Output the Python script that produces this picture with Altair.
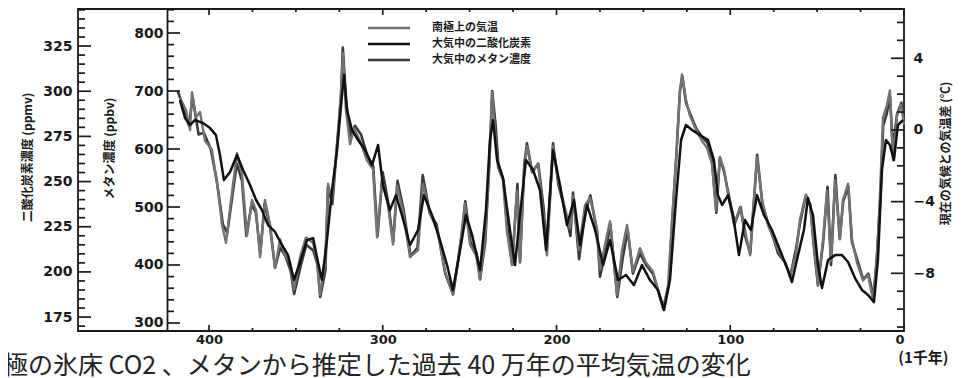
import altair as alt
import pandas as pd

# ---------------- data ----------------
# age in thousand years before present
temp_age = [416.7, 413.2, 410.9, 409.8, 407.5, 405.2, 402.3, 398.3, 394.8, 392.5,
            390.2, 387.3, 383.9, 381.0, 378.1, 375.3, 372.9, 370.6, 367.8, 364.9,
            362.0, 359.1, 356.3, 353.4, 351.1, 347.6, 344.2, 340.1, 337.8, 336.1,
            333.2, 331.5, 329.2, 326.3, 324.0, 322.9, 321.2, 318.8, 316.5, 313.1,
            309.1, 305.6, 303.3, 300.4, 297.0, 294.1, 291.8, 288.3, 284.3, 279.7,
            276.8, 272.8, 268.8, 264.2, 259.6, 256.7, 254.4, 252.7, 249.8, 246.3,
            244.0, 241.2, 238.8, 237.1, 235.4, 233.7, 230.8, 228.5, 225.6, 222.7,
            221.0, 218.7, 217.0, 214.1, 210.6, 207.8, 205.5, 202.0, 199.1, 196.3,
            192.2, 190.5, 187.1, 183.6, 180.7, 176.7, 175.0, 172.1, 169.2, 165.2,
            162.3, 159.4, 156.0, 151.9, 148.5, 144.5, 141.6, 138.7, 135.8, 133.5,
            131.2, 128.9, 127.8, 125.5, 123.2, 119.7, 116.3, 113.4, 110.5, 108.2,
            105.9, 103.6, 100.7, 97.8, 94.4, 91.5, 88.6, 84.6, 81.7, 78.3,
            75.4, 72.5, 68.5, 65.6, 62.2, 59.9, 56.4, 54.1, 51.8, 49.5,
            46.6, 44.3, 42.0, 39.7, 36.8, 35.1, 32.2, 29.9, 27.1, 23.6,
            20.7, 17.8, 15.5, 13.8, 12.1, 9.8, 8.1, 6.3, 4.0, 1.7,
            0.0]
temp_val = [1.8, 1.1, 0.0, 2.1, 0.7, 1.0, -0.6, -1.1, -3.4, -5.3,
            -6.3, -3.9, -1.3, -2.5, -5.9, -3.9, -4.5, -7.1, -3.9, -5.3,
            -7.7, -6.1, -7.0, -7.4, -8.9, -7.1, -6.0, -6.3, -7.4, -9.2,
            -7.5, -3.0, -3.9, -0.8, 2.2, 4.3, 1.1, -0.8, 0.1, -0.6,
            -1.7, -2.2, -6.0, -2.8, -4.2, -6.4, -3.1, -4.6, -7.1, -6.7,
            -3.0, -4.7, -5.5, -7.9, -9.2, -7.3, -5.6, -4.1, -6.4, -7.0,
            -8.3, -6.1, -2.2, 2.1, 0.0, -2.1, -2.8, -5.7, -7.5, -3.4,
            -7.4, -2.2, -0.9, -2.3, -1.9, -4.5, -7.0, -0.9, -2.8, -3.9,
            -5.5, -3.7, -6.7, -4.2, -3.8, -5.5, -7.8, -6.4, -5.1, -9.2,
            -6.7, -5.3, -7.9, -6.6, -7.4, -7.9, -8.9, -10.0, -8.7, -5.0,
            -1.7, 2.2, 3.1, 1.7, 0.8, 0.0, -0.6, -1.0, -1.9, -4.5,
            -1.5, -2.2, -3.9, -5.3, -4.3, -5.6, -7.0, -1.5, -3.9, -5.3,
            -6.0, -6.7, -7.4, -8.1, -7.0, -5.0, -3.6, -4.2, -6.4, -8.7,
            -6.1, -3.4, -7.3, -2.8, -6.1, -3.9, -3.0, -6.1, -7.4, -8.4,
            -8.1, -9.5, -7.0, -3.6, 0.7, 1.4, 2.2, -1.7, 0.8, 1.4,
            0.3]

co2_age = [416.7, 413.8, 410.9, 408.1, 403.5, 399.4, 396.0, 393.7, 391.4, 387.9,
           383.9, 380.4, 376.4, 372.9, 369.5, 366.0, 362.0, 358.0, 354.5, 351.1,
           347.6, 343.6, 340.1, 337.3, 335.0, 332.1, 329.2, 326.3, 324.0, 322.3,
           320.6, 317.7, 314.2, 310.2, 306.2, 302.7, 299.9, 295.9, 292.4, 289.0,
           284.3, 279.7, 276.3, 271.7, 267.1, 263.0, 259.6, 255.5, 252.1, 248.6,
           244.0, 240.6, 238.3, 236.5, 234.2, 230.8, 226.8, 223.9, 221.0, 217.6,
           213.5, 209.5, 206.0, 202.0, 198.0, 194.0, 189.9, 186.5, 182.4, 177.8,
           173.2, 169.2, 164.6, 160.0, 155.4, 150.8, 146.2, 141.6, 138.1, 134.7,
           131.2, 128.3, 125.5, 122.0, 117.4, 112.8, 109.4, 107.1, 104.7, 101.3,
           98.4, 95.0, 91.5, 88.1, 84.6, 80.6, 76.0, 71.4, 66.8, 64.5,
           61.0, 57.6, 55.3, 52.4, 49.5, 47.2, 43.7, 39.7, 35.7, 32.2,
           28.2, 24.2, 20.7, 17.3, 15.0, 12.7, 10.4, 8.1, 5.8, 3.5,
           0.6]
co2_val = [295.1, 285.2, 281.3, 284.0, 282.4, 279.6, 275.7, 264.7, 250.8, 255.3,
           264.7, 256.4, 248.1, 239.8, 234.2, 225.9, 222.1, 214.9, 209.3, 195.5,
           205.5, 217.6, 218.7, 205.5, 195.5, 217.6, 245.3, 267.4, 292.3, 309.0,
           289.6, 278.5, 273.0, 267.4, 259.1, 270.2, 248.1, 234.2, 242.5, 231.5,
           214.9, 223.2, 242.5, 231.5, 217.6, 203.8, 190.0, 212.1, 231.5, 220.5,
           201.0, 234.2, 273.0, 284.0, 261.9, 252.0, 223.2, 203.8, 231.5, 261.9,
           256.4, 245.3, 212.1, 267.4, 248.1, 225.9, 239.8, 214.9, 237.0, 223.2,
           203.8, 217.6, 195.5, 198.3, 192.7, 203.8, 195.5, 190.0, 178.9, 195.5,
           239.8, 273.0, 281.3, 278.5, 275.7, 273.0, 261.9, 242.5, 237.0, 242.5,
           231.5, 209.3, 228.7, 223.2, 242.5, 231.5, 223.2, 212.1, 201.0, 194.4,
           209.3, 223.2, 240.9, 231.5, 203.8, 191.1, 206.6, 209.3, 209.3, 205.5,
           196.6, 190.0, 187.2, 183.3, 206.6, 256.4, 273.0, 270.2, 261.9, 281.3,
           284.0]

ch4_age = [418, 414, 411.5, 409.5, 406, 403, 399, 395.5, 392, 389.5,
           386.5, 384, 381, 378.5, 375.5, 373, 370.5, 368, 365, 362,
           359, 356, 353, 351, 347.5, 344, 340, 337.5, 336, 333,
           331.5, 329, 326.5, 324, 323, 321, 318.5, 316, 312.5, 309,
           305.5, 303, 300, 297, 294, 291.5, 288, 284, 280, 277,
           273, 269, 264, 259.5, 256.5, 254, 252.5, 249.5, 246, 244,
           241, 238.5, 237, 235, 233.5, 230.5, 228.5, 225.5, 222.5, 221,
           218.5, 217, 214, 210.5, 207.5, 205.5, 202, 199, 196, 192,
           190.5, 187, 183.5, 180.5, 176.5, 175, 172, 169, 165, 162,
           159, 156, 152, 148.5, 144.5, 141.5, 138.5, 135.5, 133.5, 131,
           129, 127.5, 125.5, 123, 119.5, 116, 113, 110.5, 108, 106,
           103.5, 100.5, 97.5, 94, 91.5, 88.5, 84.5, 81.5, 78, 75,
           72.5, 68.5, 65.5, 62, 60, 56.5, 54, 52, 49.5, 46.5,
           44, 42, 39.5, 37, 35, 32, 30, 27, 23.5, 20.5,
           17.5, 15.5, 13.5, 12, 10, 8, 6.5, 4, 1.5, 0]
ch4_val = [700, 665, 640, 690, 625, 628, 600, 545, 470, 455,
           520, 575, 545, 450, 505, 490, 420, 505, 470, 395,
           430, 415, 390, 350, 395, 435, 425, 400, 345, 390,
           535, 505, 600, 690, 775, 680, 620, 640, 625, 590,
           570, 450, 560, 510, 440, 545, 495, 415, 430, 555,
           490, 470, 385, 350, 410, 465, 510, 440, 420, 375,
           440, 585, 700, 640, 575, 545, 470, 400, 540, 405,
           575, 610, 560, 575, 500, 430, 610, 540, 505, 450,
           525, 410, 490, 520, 455, 380, 420, 470, 345, 410,
           460, 385, 420, 400, 385, 355, 325, 365, 470, 590,
           700, 725, 680, 660, 635, 620, 610, 580, 490, 585,
           560, 515, 470, 500, 450, 420, 590, 505, 470, 445,
           420, 405, 380, 430, 470, 520, 505, 435, 365, 440,
           535, 400, 555, 445, 510, 535, 440, 410, 375, 385,
           345, 420, 520, 640, 660, 690, 600, 660, 680, 650]

series_names = ["南極上の気温", "大気中の二酸化炭素", "大気中のメタン濃度"]
series_colors = ["#737373", "#111111", "#3a3a3a"]
series_widths = [2.4, 2.6, 2.1]

x_labels = [400, 300, 200, 100, 0]
x_ticks = [400, 375, 350, 325, 300, 275, 250, 225, 200, 175, 150, 125, 100, 75, 50, 25, 0]
co2_labels = [175, 200, 225, 250, 275, 300, 325]
co2_ticks = list(range(170, 346, 5))
ch4_labels = [300, 400, 500, 600, 700, 800]
ch4_ticks = list(range(300, 841, 20))
temp_labels = [4, 0, -4, -8]
temp_ticks = list(range(-11, 7))

caption = "南極の氷床 CO2 、メタンから推定した過去 40 万年の平均気温の変化"
x_unit = "(1千年)"
co2_title = "二酸化炭素濃度 (ppmv)"
ch4_title = "メタン濃度 (ppbv)"
temp_title = "現在の気候との気温差 (℃)"

# ---------------- layout ----------------
W, H = 826, 322
INNER = 89          # distance from outer (CO2) frame to inner (methane) axis
CJK = "Noto Sans CJK JP"
LF = "DejaVu Sans"
INK = "#1a1a1a"
MAJOR, MINOR = 13, 7     # y tick lengths (inward)
XMAJOR, XMINOR = 6, 3    # x tick lengths (inward)

temp_df = pd.DataFrame({"age": temp_age, "value": temp_val, "series": series_names[0]})
co2_df = pd.DataFrame({"age": co2_age, "value": co2_val, "series": series_names[1]})
ch4_df = pd.DataFrame({"age": ch4_age, "value": ch4_val, "series": series_names[2]})
legend_df = pd.DataFrame({"series": series_names})

X_DOM = [0, 475.4]
TEMP_DOM = [-11.22, 6.75]
CO2_DOM = [167.3, 345.5]
CH4_DOM = [286.2, 841.4]


def xs():
    return alt.Scale(domain=X_DOM, reverse=True, nice=False, zero=False)


def ys(dom):
    return alt.Scale(domain=dom, nice=False, zero=False)


color = alt.Color("series:N", scale=alt.Scale(domain=series_names, range=series_colors), legend=None)
width_enc = alt.StrokeWidth("series:N", scale=alt.Scale(domain=series_names, range=series_widths), legend=None)

label_style = dict(labelFont=LF, labelFontSize=14, labelFontWeight="bold", labelColor=INK, grid=False)
title_style = dict(titleFont=CJK, titleFontSize=12, titleFontWeight="bold", titleColor=INK,
                   titleAngle=270, titleAlign="center", titleBaseline="middle")

ax_x_labels = alt.Axis(orient="bottom", values=x_labels, ticks=False, domain=False, labelPadding=2,
                       format="d", title=x_unit, titleFont=CJK, titleFontSize=15,
                       titleFontWeight="bold", titleColor=INK, titleX=870, titleY=26,
                       titleAlign="right", titleBaseline="middle",
                       labelFont=LF, labelFontSize=13, labelFontWeight="bold", labelColor=INK, grid=False)
ax_temp = alt.Axis(orient="right", values=temp_labels, ticks=False, domain=False, labelPadding=9,
                   title=temp_title, titleX=41, titleY=144, **label_style, **title_style)
ax_co2 = alt.Axis(orient="left", values=co2_labels, ticks=False, domain=False, labelPadding=6,
                  title=co2_title, titleX=-51, titleY=148, **label_style, **title_style)
ax_ch4 = alt.Axis(orient="left", offset=-INNER, values=ch4_labels, ticks=False, domain=True,
                  domainColor=INK, domainWidth=1.8, labelPadding=4, title=ch4_title, titleX=-58,
                  titleY=139, **label_style, **title_style)

line = dict(interpolate="linear", strokeJoin="round")

ch4_line = alt.Chart(ch4_df).mark_line(**line).encode(
    x=alt.X("age:Q", scale=xs(), axis=None), y=alt.Y("value:Q", scale=ys(CH4_DOM), axis=ax_ch4),
    color=color, strokeWidth=width_enc)
temp_line = alt.Chart(temp_df).mark_line(**line).encode(
    x=alt.X("age:Q", scale=xs(), axis=ax_x_labels), y=alt.Y("value:Q", scale=ys(TEMP_DOM), axis=ax_temp),
    color=color, strokeWidth=width_enc)
co2_line = alt.Chart(co2_df).mark_line(**line).encode(
    x=alt.X("age:Q", scale=xs(), axis=None), y=alt.Y("value:Q", scale=ys(CO2_DOM), axis=ax_co2),
    color=color, strokeWidth=width_enc)


# inward tick marks, placed through the same scales
def y_ticks(values, dom, x0, x1):
    return alt.Chart(pd.DataFrame({"v": values})).mark_rule(color=INK, strokeWidth=1.7).encode(
        y=alt.Y("v:Q", scale=ys(dom), axis=None), x=alt.value(x0), x2=alt.value(x1))


def x_tick_marks(values, y0, y1):
    return alt.Chart(pd.DataFrame({"v": values})).mark_rule(color=INK, strokeWidth=1.7).encode(
        x=alt.X("v:Q", scale=xs(), axis=None), y=alt.value(y0), y2=alt.value(y1))


co2_major = [v for v in co2_ticks if v % 25 == 0]
co2_minor = [v for v in co2_ticks if v % 25 != 0]
ch4_major = [v for v in ch4_ticks if v % 100 == 0]
ch4_minor = [v for v in ch4_ticks if v % 100 != 0]
temp_major = [v for v in temp_ticks if v % 4 == 0]
temp_minor = [v for v in temp_ticks if v % 4 != 0]
x_major = [v for v in x_ticks if v % 100 == 0]
x_minor = [v for v in x_ticks if v % 100 != 0]

tick_layers = [
    y_ticks(co2_major, CO2_DOM, 0, MAJOR),
    y_ticks(co2_minor, CO2_DOM, 0, MINOR),
    y_ticks(ch4_major, CH4_DOM, INNER, INNER + MAJOR),
    y_ticks(ch4_minor, CH4_DOM, INNER, INNER + MINOR),
    y_ticks(temp_major, TEMP_DOM, W - MAJOR, W),
    y_ticks(temp_minor, TEMP_DOM, W - MINOR, W),
    x_tick_marks(x_major, H - XMAJOR, H),
    x_tick_marks(x_minor, H - XMINOR, H),
    x_tick_marks(x_major, 0, XMAJOR),
    x_tick_marks(x_minor, 0, XMINOR),
]

# in-plot legend
leg_y = alt.Y("series:N", scale=alt.Scale(type="point", domain=series_names, range=[19, 51], padding=0),
              axis=None)
legend_rules = alt.Chart(legend_df).mark_rule().encode(
    x=alt.value(290), x2=alt.value(332), y=leg_y, color=color, strokeWidth=width_enc)
legend_text = alt.Chart(legend_df).mark_text(
    align="left", baseline="middle", font=CJK, fontSize=11, fontWeight="bold", color=INK).encode(
    x=alt.value(354), y=leg_y, text="series:N")

chart = alt.layer(
    ch4_line, temp_line, co2_line, *tick_layers, legend_rules, legend_text,
).resolve_scale(x="independent", y="independent").properties(
    width=W, height=H,
    autosize=alt.AutoSizeParams(type="none"),
    padding={"left": 70, "top": 1, "right": 52, "bottom": 47},
    title=alt.TitleParams(caption, orient="bottom", anchor="start", frame="group", offset=-11,
                          dx=-100, font=CJK, fontSize=25, fontWeight="normal", color="#222"),
    background="white",
).configure_view(stroke=INK, strokeWidth=1.8)

chart.save("out.html", embed_options={"renderer": "svg", "actions": False})
